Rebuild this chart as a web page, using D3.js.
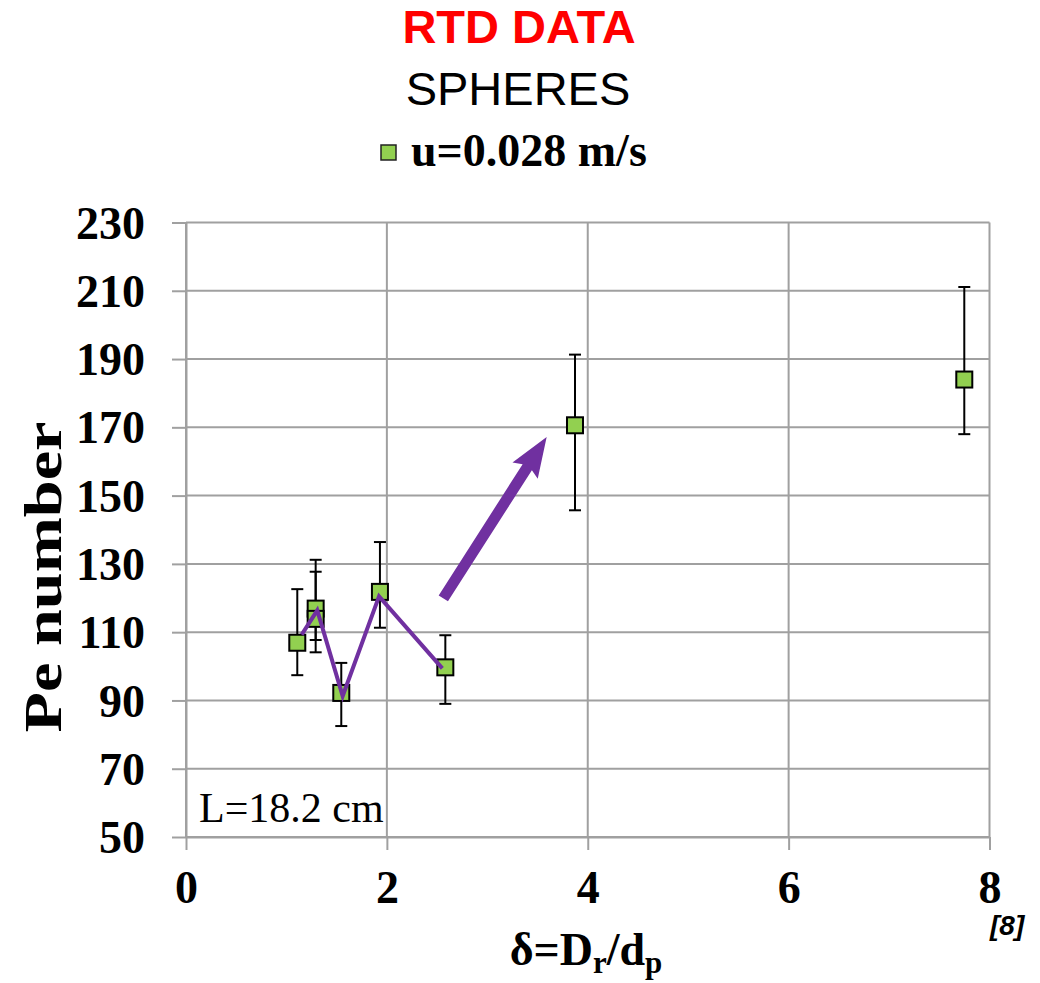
<!DOCTYPE html>
<html>
<head>
<meta charset="utf-8">
<script src="https://cdn.jsdelivr.net/npm/d3@7"></script>
<style>
  html, body { margin: 0; padding: 0; background: #fff; }
  svg { display: block; }
</style>
</head>
<body>
<svg id="chart" width="1040" height="983"></svg>
<script>
// Measured Péclet numbers vs. column-to-particle diameter ratio
const deltaValues = [1.108, 1.291, 1.291, 1.546, 1.931, 2.582, 3.873, 7.749];
const peValues    = [106.9, 116.9, 113.9, 92.2, 121.8, 99.7, 170.6, 184.0];
const peUpper     = [122.6, 131.2, 127.7, 101.0, 136.4, 109.1, 191.3, 211.1];
const peLower     = [97.4, 104.1, 107.7, 82.5, 111.3, 89.0, 145.7, 168.0];

// Hand-drawn trend line through the small-δ points
const trendDelta = [1.152, 1.307, 1.560, 1.922, 2.552];
const trendPe    = [109.3, 116.4, 91.3, 120.5, 99.4];

// Arrow pointing toward the larger-δ results: [start, tip]
const arrowDelta = [2.562, 3.591];
const arrowPe    = [119.9, 167.2];

const xTicks = [0, 2, 4, 6, 8];
const yTicks = [50, 70, 90, 110, 130, 150, 170, 190, 210, 230];

const GRID = "#a0a0a0";
const PURPLE = "#7030A0";
const GREEN = "#92D050";
const SERIF = "'Liberation Serif', 'Times New Roman', serif";
const SANS = "'Liberation Sans', Arial, sans-serif";

const svg = d3.select("#chart");

const x = d3.scaleLinear().domain([0, 8]).range([186, 989.5]);
const y = d3.scaleLinear().domain([50, 230]).range([837, 222.5]);

// Titles
svg.append("text").attr("x", 519).attr("y", 43).attr("text-anchor", "middle")
  .attr("font-family", SANS).attr("font-weight", "bold").attr("font-size", 47)
  .attr("fill", "#FF0000").text("RTD DATA");
svg.append("text").attr("x", 518).attr("y", 105).attr("text-anchor", "middle")
  .attr("font-family", SANS).attr("font-size", 47)
  .attr("fill", "#000").text("SPHERES");

// Legend
svg.append("rect").attr("x", 381).attr("y", 145).attr("width", 15).attr("height", 15)
  .attr("fill", GREEN).attr("stroke", "#222").attr("stroke-width", 1.5);
svg.append("text").attr("x", 411).attr("y", 166).attr("font-family", SERIF)
  .attr("font-weight", "bold").attr("font-size", 46).attr("fill", "#000")
  .text("u=0.028 m/s");

// Grid
const grid = svg.append("g");
grid.selectAll("line.h").data(yTicks).join("line")
  .attr("x1", x(0)).attr("x2", x(8))
  .attr("y1", d => y(d)).attr("y2", d => y(d))
  .attr("stroke", GRID).attr("stroke-width", 2);
grid.selectAll("line.v").data(xTicks).join("line")
  .attr("x1", d => x(d)).attr("x2", d => x(d))
  .attr("y1", y(230)).attr("y2", y(50))
  .attr("stroke", GRID).attr("stroke-width", 2);

// Axes
const xAxis = d3.axisBottom(x).tickValues(xTicks).tickSize(13).tickSizeOuter(0).tickPadding(20);
const yAxis = d3.axisLeft(y).tickValues(yTicks).tickSize(14).tickSizeOuter(0).tickPadding(27);

const gx = svg.append("g").attr("transform", `translate(0,${y(50)})`).call(xAxis);
const gy = svg.append("g").attr("transform", `translate(${x(0)},0)`).call(yAxis);
[gx, gy].forEach(g => {
  g.select(".domain").attr("stroke", GRID).attr("stroke-width", 2);
  g.selectAll(".tick line").attr("stroke", GRID).attr("stroke-width", 2);
  g.selectAll(".tick text").attr("font-family", SERIF).attr("font-weight", "bold")
    .attr("font-size", 46).attr("fill", "#000");
});
gx.selectAll(".tick text").attr("dy", "0.71em");
gy.selectAll(".tick text").attr("dy", "0.34em");

// Axis titles
const xt = svg.append("text").attr("x", 586).attr("y", 965).attr("text-anchor", "middle")
  .attr("font-family", SERIF).attr("font-weight", "bold").attr("font-size", 46).attr("fill", "#000");
xt.append("tspan").text("δ=D");
xt.append("tspan").attr("font-size", 31).attr("dy", 8).text("r");
xt.append("tspan").attr("dy", -8).text("/d");
xt.append("tspan").attr("font-size", 31).attr("dy", 8).text("p");

svg.append("text").attr("transform", "translate(61,577) rotate(-90)")
  .attr("text-anchor", "middle").attr("font-family", SERIF).attr("font-weight", "bold")
  .attr("font-size", 52).attr("textLength", 311).attr("lengthAdjust", "spacingAndGlyphs")
  .attr("fill", "#000").text("Pe number");

// Annotation inside the plot
svg.append("text").attr("x", 199).attr("y", 822).attr("font-family", SERIF)
  .attr("font-size", 42).attr("fill", "#000").text("L=18.2 cm");

svg.append("text").attr("x", 990).attr("y", 935).attr("font-family", SANS)
  .attr("font-weight", "bold").attr("font-style", "italic").attr("font-size", 28)
  .attr("fill", "#000").text("[8]");

// Error bars
const pts = deltaValues.map((d, i) => ({ d, pe: peValues[i], hi: peUpper[i], lo: peLower[i] }));
const eb = svg.append("g").attr("stroke", "#000").attr("stroke-width", 2);
eb.selectAll("line.stem").data(pts).join("line")
  .attr("x1", p => x(p.d)).attr("x2", p => x(p.d))
  .attr("y1", p => y(p.hi)).attr("y2", p => y(p.lo));
eb.selectAll("line.capHi").data(pts).join("line")
  .attr("x1", p => x(p.d) - 6).attr("x2", p => x(p.d) + 6)
  .attr("y1", p => y(p.hi)).attr("y2", p => y(p.hi));
eb.selectAll("line.capLo").data(pts).join("line")
  .attr("x1", p => x(p.d) - 6).attr("x2", p => x(p.d) + 6)
  .attr("y1", p => y(p.lo)).attr("y2", p => y(p.lo));

// Markers
const S = 16;
svg.append("g").selectAll("rect").data(pts).join("rect")
  .attr("x", p => x(p.d) - S / 2).attr("y", p => y(p.pe) - S / 2)
  .attr("width", S).attr("height", S)
  .attr("fill", GREEN).attr("stroke", "#000").attr("stroke-width", 2);

// Trend line
const trend = trendDelta.map((d, i) => [x(d), y(trendPe[i])]);
svg.append("path").attr("d", d3.line()(trend))
  .attr("fill", "none").attr("stroke", PURPLE).attr("stroke-width", 4)
  .attr("stroke-linejoin", "miter");

// Block arrow
const x0 = x(arrowDelta[0]), y0 = y(arrowPe[0]);
const x1 = x(arrowDelta[1]), y1 = y(arrowPe[1]);
const len = Math.hypot(x1 - x0, y1 - y0);
const ang = Math.atan2(y1 - y0, x1 - x0) * 180 / Math.PI;
const shaftW = 11, headW = 30, headL = 36;
const arrowPts = [
  [0, -shaftW / 2], [len - headL, -shaftW / 2], [len - headL - 4, -headW / 2],
  [len, 0],
  [len - headL - 4, headW / 2], [len - headL, shaftW / 2], [0, shaftW / 2]
];
svg.append("path")
  .attr("transform", `translate(${x0},${y0}) rotate(${ang})`)
  .attr("d", d3.line()(arrowPts) + "Z")
  .attr("fill", PURPLE);
</script>
</body>
</html>
